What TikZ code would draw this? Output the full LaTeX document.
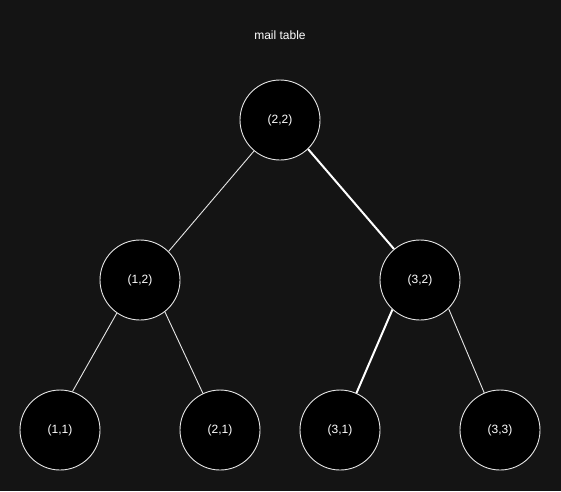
\documentclass[tikz,border=0pt]{standalone}
\usepackage{fontspec}
\setmainfont{Liberation Sans}
\usetikzlibrary{positioning}
\definecolor{bgdark}{HTML}{141414}
\definecolor{rim}{HTML}{E6E6E6}

\begin{document}
\begin{tikzpicture}
[x=1pt,y=-1pt,on grid,font=\fontsize{12}{14}\selectfont,text=white,
 vertex/.style={circle,draw=rim,fill=black,minimum size=80pt,inner sep=0pt,line width=0.9pt},
 link/.style={draw=rim,line width=0.9pt},
 heavy/.style={draw=white,line width=2pt}]

\fill[bgdark] (0,0) rectangle (561,491);
\useasboundingbox (0,0) rectangle (561,491);

\node (title) at (280,35) {mail table};

\node[vertex] (n22) at (280,120) {(2,2)};
\node[vertex, below left=160pt and 140pt of n22] (n12) {(1,2)};
\node[vertex, below right=160pt and 140pt of n22] (n32) {(3,2)};
\node[vertex, below left=150pt and 80pt of n12] (n11) {(1,1)};
\node[vertex, below right=150pt and 80pt of n12] (n21) {(2,1)};
\node[vertex, below left=150pt and 80pt of n32] (n31) {(3,1)};
\node[vertex, below right=150pt and 80pt of n32] (n33) {(3,3)};

\path
	(n22.230) edge[link] (n12.45)
	(n22.314) edge[heavy] (n32.130)
	(n12.235) edge[link] (n11.72)
	(n12.308) edge[link] (n21.115)
	(n32.227) edge[heavy] (n31.66)
	(n32.315) edge[link] (n33.113);
\end{tikzpicture}
\end{document}
